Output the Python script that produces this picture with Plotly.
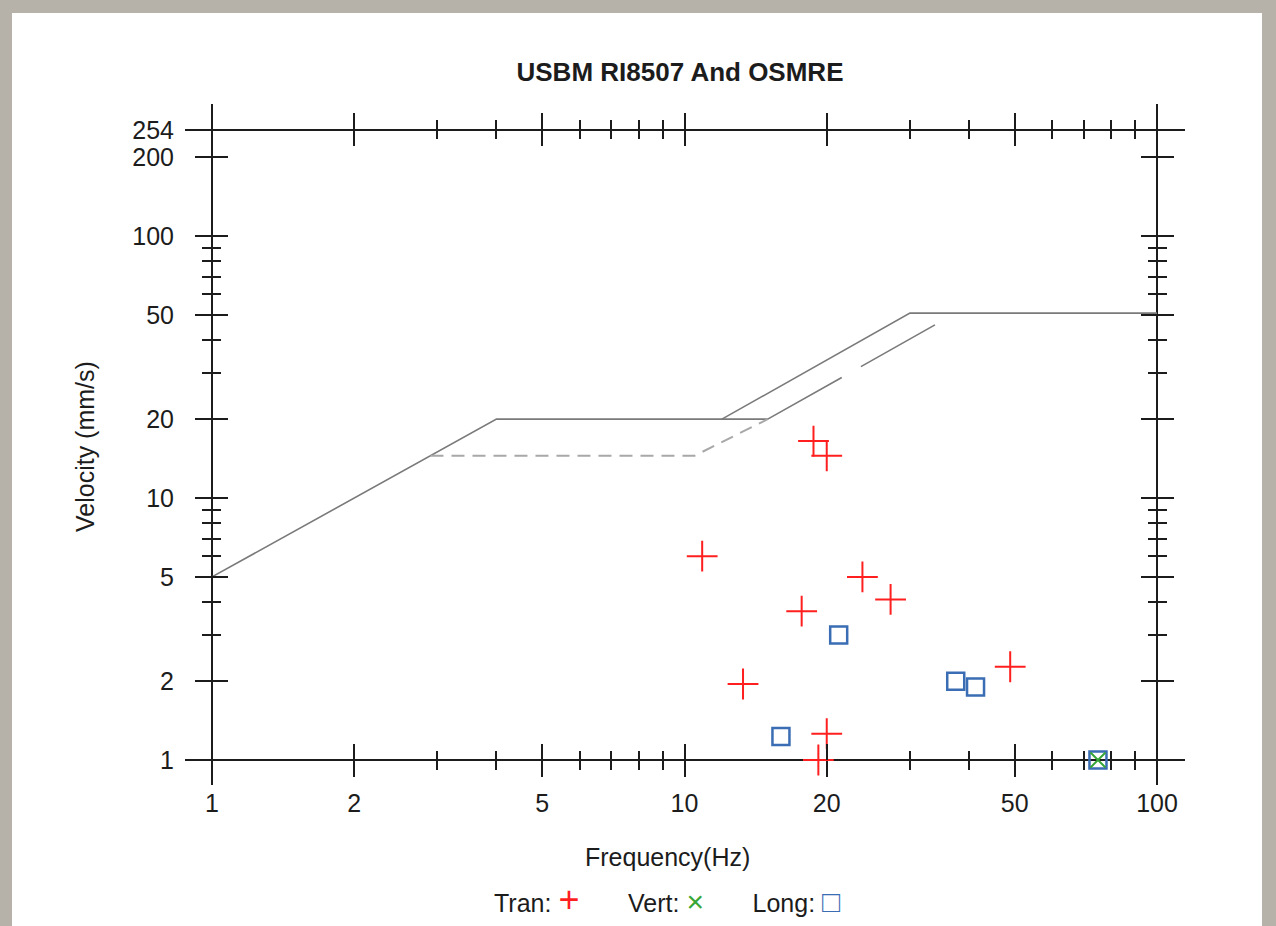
import numpy as np
import plotly.graph_objects as go

# ---------------- data ----------------
tran_freq = [18.75, 20.0, 10.9, 23.8, 27.3, 17.7, 13.3, 48.9, 20.0, 19.2]
tran_vel = [16.5, 14.5, 6.0, 5.0, 4.1, 3.7, 1.95, 2.27, 1.26, 1.0]

vert_freq = [75.0]
vert_vel = [1.0]

long_freq = [21.2, 16.0, 37.5, 41.3, 75.0]
long_vel = [3.0, 1.23, 2.0, 1.9, 1.0]

# criteria curves
usbm_solid_freq = [1, 4, 15]
usbm_solid_vel = [5, 20, 20]
usbm_ext_freq = [15, 34.4]
usbm_ext_vel = [20, 46.5]
plaster_freq = [2.9, 10.5, 15]
plaster_vel = [14.5, 14.5, 20]
osmre_freq = [12, 30, 100]
osmre_vel = [20, 50.8, 50.8]

x_major = [1, 2, 5, 10, 20, 50, 100]
x_labels = ["1", "2", "5", "10", "20", "50", "100"]
x_minor = [3, 4, 6, 7, 8, 9, 30, 40, 60, 70, 80, 90]
y_major = [1, 2, 5, 10, 20, 50, 100, 200, 254]
y_labels = ["1", "2", "5", "10", "20", "50", "100", "200", "254"]
y_minor = [3, 4, 6, 7, 8, 9, 30, 40, 60, 70, 80, 90]

title_text = "USBM RI8507 And OSMRE"
x_title = "Frequency(Hz)"
y_title = "Velocity (mm/s)"

# ---------------- styling ----------------
FONT = "Liberation Sans, Arial, sans-serif"
TC = "#1c1c1c"
W, H = 1276, 926
L, R, T, B = 212, 1157, 130, 760

fig = go.Figure()

fig.add_trace(go.Scatter(x=usbm_solid_freq, y=usbm_solid_vel, mode="lines",
                         line=dict(color="#7a7a7a", width=1.6), showlegend=False, hoverinfo="skip"))
fig.add_trace(go.Scatter(x=osmre_freq, y=osmre_vel, mode="lines",
                         line=dict(color="#7a7a7a", width=1.6), showlegend=False, hoverinfo="skip"))
fig.add_trace(go.Scatter(x=plaster_freq, y=plaster_vel, mode="lines",
                         line=dict(color="#a8a8a8", width=2, dash="13px,8px"), showlegend=False, hoverinfo="skip"))
fig.add_trace(go.Scatter(x=usbm_ext_freq, y=usbm_ext_vel, mode="lines",
                         line=dict(color="#7a7a7a", width=1.6, dash="85px,22px"), showlegend=False, hoverinfo="skip"))

fig.add_trace(go.Scatter(x=tran_freq, y=tran_vel, mode="markers", name="Tran", cliponaxis=False,
                         marker=dict(symbol="cross-thin", size=22, color="#ff1f1f",
                                     line=dict(color="#ff1f1f", width=2)), showlegend=False))
fig.add_trace(go.Scatter(x=long_freq, y=long_vel, mode="markers", name="Long", cliponaxis=False,
                         marker=dict(symbol="square-open", size=17, color="#3a6db4",
                                     line=dict(color="#3a6db4", width=2.5)), showlegend=False))
fig.add_trace(go.Scatter(x=vert_freq, y=vert_vel, mode="markers", name="Vert", cliponaxis=False,
                         marker=dict(symbol="x-thin", size=15, color="#36a636",
                                     line=dict(color="#36a636", width=2)), showlegend=False))

# empty traces so that the overlaid tick-only axes are created
for k in (2, 3, 4):
    fig.add_trace(go.Scatter(x=[], y=[], xaxis="x%d" % k, yaxis="y%d" % k,
                             showlegend=False, hoverinfo="skip"))


def xaxis(n, side, ticks, labels):
    d = dict(type="log", range=[0, 2], autorange=False, showgrid=False, zeroline=False, showline=False,
             tickmode="array", tickvals=x_major, ticktext=x_labels, showticklabels=labels,
             ticks=ticks, ticklen=16, tickwidth=2, tickcolor=TC,
             tickfont=dict(family=FONT, size=25, color=TC),
             minor=dict(tickmode="array", tickvals=x_minor, ticks=ticks, ticklen=9,
                        tickwidth=1.6, tickcolor=TC, showgrid=False),
             side=side, anchor="y" if n == 1 else "y%d" % n, fixedrange=True, domain=[0, 1])
    if labels:
        d["ticklabelstandoff"] = 26
    if n > 1:
        d["overlaying"] = "x"
    return d


def yaxis(n, side, ticks, labels):
    d = dict(type="log", range=[0, float(np.log10(254))], autorange=False, showgrid=False,
             zeroline=False, showline=False, tickmode="array", tickvals=y_major, ticktext=y_labels,
             showticklabels=labels, ticks=ticks, ticklen=16, tickwidth=2, tickcolor=TC,
             tickfont=dict(family=FONT, size=25, color=TC),
             minor=dict(tickmode="array", tickvals=y_minor, ticks=ticks, ticklen=9,
                        tickwidth=1.6, tickcolor=TC, showgrid=False),
             side=side, anchor="x" if n == 1 else "x%d" % n, fixedrange=True, domain=[0, 1])
    if labels:
        d["ticklabelstandoff"] = 37
    if n > 1:
        d["overlaying"] = "y"
    return d


fig.update_layout(
    width=W, height=H,
    margin=dict(l=L, r=W - R, t=T, b=H - B),
    paper_bgcolor="#b6b2a9",
    plot_bgcolor="rgba(0,0,0,0)",
    font=dict(family=FONT, color=TC),
    # bottom: inside ticks (with labels) + outside ticks
    xaxis=xaxis(1, "bottom", "inside", True),
    xaxis2=xaxis(2, "bottom", "outside", False),
    # top: outside + inside ticks
    xaxis3=xaxis(3, "top", "outside", False),
    xaxis4=xaxis(4, "top", "inside", False),
    # left: inside ticks (with labels) + outside ticks
    yaxis=yaxis(1, "left", "inside", True),
    yaxis2=yaxis(2, "left", "outside", False),
    # right: outside + inside ticks
    yaxis3=yaxis(3, "right", "outside", False),
    yaxis4=yaxis(4, "right", "inside", False),
    title=dict(text="<b>" + title_text + "</b>", x=680 / W, y=1 - 72 / H,
               xanchor="center", yanchor="middle",
               font=dict(family=FONT, size=26, color=TC)),
)


def px(xp):
    return (xp - L) / (R - L)


def py(yp):
    return (B - yp) / (B - T)


shapes = [
    # white card on the textured background
    dict(type="rect", xref="paper", yref="paper", x0=px(12), x1=px(1262), y0=py(930), y1=py(13),
         fillcolor="white", line=dict(width=0), layer="below"),
    # frame lines, extending past the plotting area
    dict(type="line", xref="paper", yref="paper", x0=px(185), x1=px(1185), y0=0, y1=0,
         line=dict(color=TC, width=2), layer="below"),
    dict(type="line", xref="paper", yref="paper", x0=px(185), x1=px(1185), y0=1, y1=1,
         line=dict(color=TC, width=2), layer="below"),
    dict(type="line", xref="paper", yref="paper", x0=0, x1=0, y0=py(785), y1=py(104),
         line=dict(color=TC, width=2), layer="below"),
    dict(type="line", xref="paper", yref="paper", x0=1, x1=1, y0=py(785), y1=py(104),
         line=dict(color=TC, width=2), layer="below"),
]
fig.update_layout(shapes=shapes)

nb = "\u00a0"
legend_html = ("Tran:" + nb + "<span style='color:#ff1f1f;font-size:36px'>+</span>" + nb * 7 +
               "Vert:" + nb + "<span style='color:#36a636;font-size:30px'>×</span>" + nb * 7 +
               "Long:" + nb + "<span style='color:#3a6db4;font-size:30px'>□</span>")

fig.add_annotation(text=x_title, xref="paper", yref="paper", x=px(667), y=py(857),
                   xanchor="center", yanchor="middle", showarrow=False,
                   font=dict(family=FONT, size=25, color=TC))
fig.add_annotation(text=y_title, xref="paper", yref="paper", x=px(85), y=py(447),
                   xanchor="center", yanchor="middle", showarrow=False, textangle=-90,
                   font=dict(family=FONT, size=25, color=TC))
fig.add_annotation(text=legend_html, xref="paper", yref="paper", x=px(667), y=py(899),
                   xanchor="center", yanchor="middle", showarrow=False,
                   font=dict(family=FONT, size=25, color=TC))

fig.write_html("out.html", config={"displayModeBar": False},
               post_script="document.body.style.margin='0px';document.body.style.overflow='hidden';")
